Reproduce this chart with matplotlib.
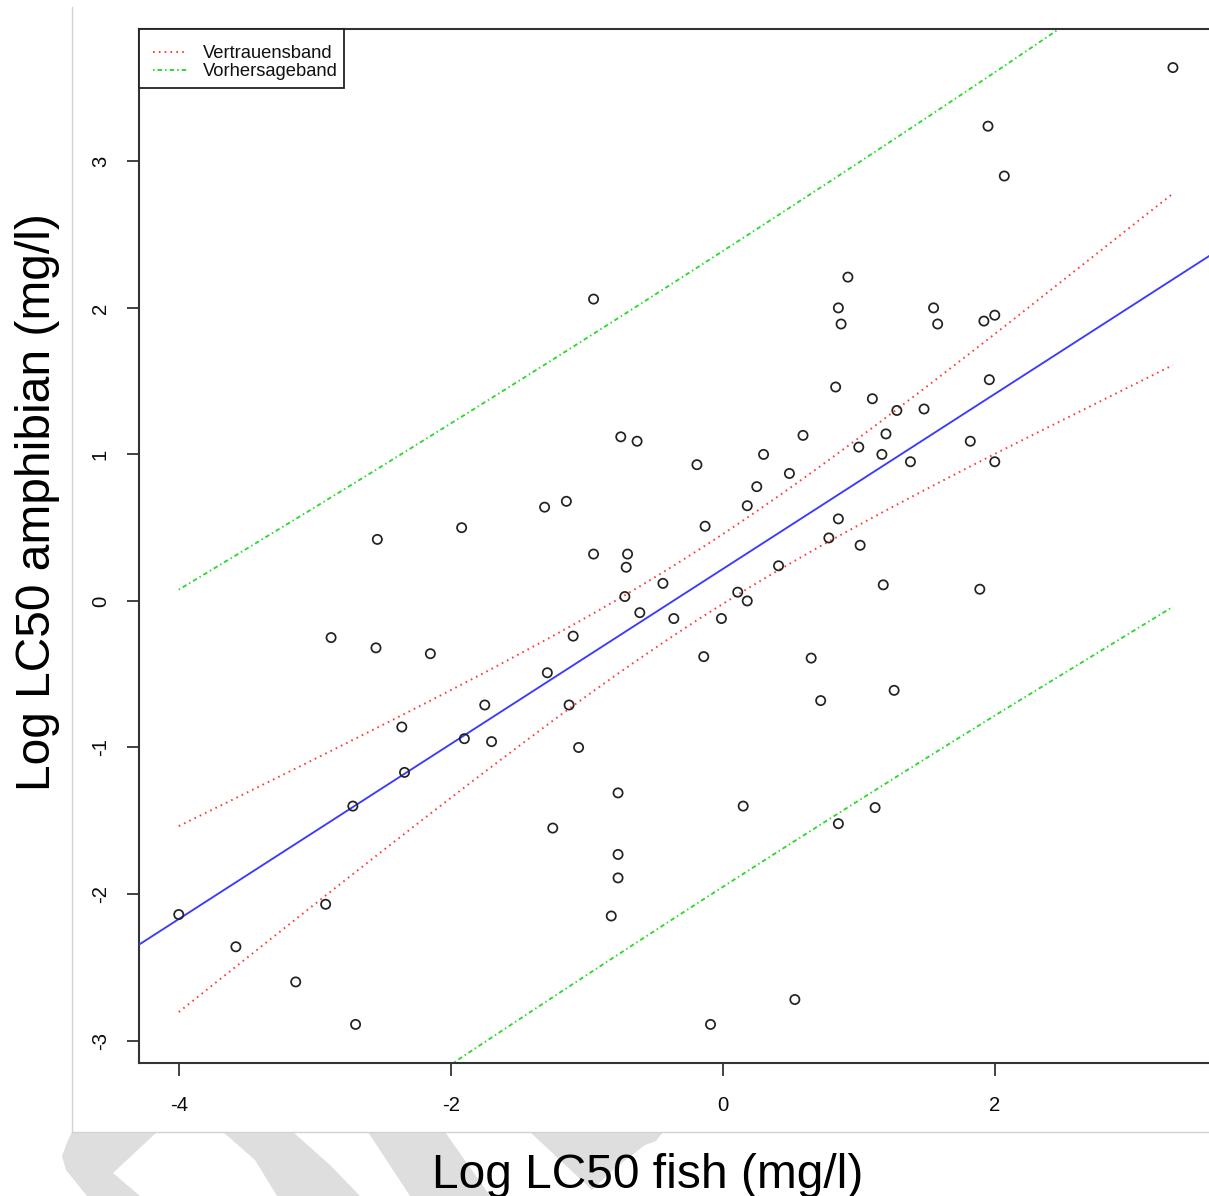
import numpy as np
import matplotlib
matplotlib.use("Agg")
import matplotlib.pyplot as plt
from matplotlib.patches import Polygon, Rectangle
from matplotlib.lines import Line2D

plt.rcParams['font.family'] = ['Liberation Sans', 'DejaVu Sans']
plt.rcParams['lines.scale_dashes'] = False

# Log LC50 values (mg/l) per substance
fish = np.array([
    3.31, 1.95, 2.07, 0.92, -0.95, 0.85, 1.55, 0.87, 1.92, 2.00,
    1.58, 1.96, 0.83, 1.10, 1.28, 1.48, -0.75, -0.63, 0.59, 1.20,
    1.82, 1.00, 0.30, 1.17, 1.38, 2.00, -0.19, 0.49, 0.25, -1.15,
    -1.31, 0.18, -1.92, -0.13, 0.85, -2.54, 0.78, 1.01, -0.95, -0.70,
    -0.71, 0.41, -0.44, 1.89, 1.18, 0.11, -0.72, 0.18, -0.61, -0.01,
    -0.36, -2.88, -1.10, -2.55, -2.15, -0.14, 0.65, -1.29, -1.75, -1.13,
    0.72, 1.26, -2.36, -1.90, -1.70, -1.06, -2.34, -0.77, -2.72, 0.15,
    1.12, 0.85, -1.25, -0.77, -0.77, -2.92, -4.00, -0.82, -3.58, -3.14,
    0.53, -2.70, -0.09,
])
amphibian = np.array([
    3.64, 3.24, 2.90, 2.21, 2.06, 2.00, 2.00, 1.89, 1.91, 1.95,
    1.89, 1.51, 1.46, 1.38, 1.30, 1.31, 1.12, 1.09, 1.13, 1.14,
    1.09, 1.05, 1.00, 1.00, 0.95, 0.95, 0.93, 0.87, 0.78, 0.68,
    0.64, 0.65, 0.50, 0.51, 0.56, 0.42, 0.43, 0.38, 0.32, 0.32,
    0.23, 0.24, 0.12, 0.08, 0.11, 0.06, 0.03, 0.00, -0.08, -0.12,
    -0.12, -0.25, -0.24, -0.32, -0.36, -0.38, -0.39, -0.49, -0.71, -0.71,
    -0.68, -0.61, -0.86, -0.94, -0.96, -1.00, -1.17, -1.31, -1.40, -1.40,
    -1.41, -1.52, -1.55, -1.73, -1.89, -2.07, -2.14, -2.15, -2.36, -2.60,
    -2.72, -2.89, -2.89,
])

x_ticks = [-4, -2, 0, 2]
y_ticks = [-3, -2, -1, 0, 1, 2, 3]
band_labels = ["Vertrauensband", "Vorhersageband"]
x_label = "Log LC50 fish (mg/l)"
y_label = "Log LC50 amphibian (mg/l)"

T_975 = 1.9897  # two-sided 95 % t quantile, n - 2 = 81 df

# ---- linear regression with confidence and prediction bands ----
n = len(fish)
slope, intercept = np.polyfit(fish, amphibian, 1)
resid = amphibian - (intercept + slope * fish)
s = np.sqrt(np.sum(resid ** 2) / (n - 2))
xbar = fish.mean()
sxx = np.sum((fish - xbar) ** 2)
xs = np.sort(fish)
fit = intercept + slope * xs
se_mean = s * np.sqrt(1 / n + (xs - xbar) ** 2 / sxx)
se_pred = s * np.sqrt(1 + 1 / n + (xs - xbar) ** 2 / sxx)

# ---- figure ----
W, H = 1209, 1196
fig = plt.figure(figsize=(W / 100, H / 100), dpi=100)


def fx(px):
    return px / W


def fy(py):
    return 1 - py / H


# light grey decorative strokes below the framed area
wm_color = '#dedede'
strokes = [
    [(72, 1132), (157, 1132), (113, 1173), (140, 1196), (87, 1196), (66, 1170), (62, 1156), (68, 1140)],
    [(223, 1132), (293, 1132), (330, 1165), (360, 1196), (277, 1196), (255, 1160)],
    [(368, 1132), (445, 1132), (490, 1196), (410, 1196)],
    [(530, 1132), (663, 1132), (656, 1141), (645, 1145), (615, 1168), (592, 1190), (560, 1160)],
]
for pts in strokes:
    fig.patches.append(Polygon([(fx(a), fy(b)) for a, b in pts], closed=True,
                               transform=fig.transFigure, facecolor=wm_color,
                               edgecolor='none', zorder=0))

# thin grey frame around the chart area
frame_c = '#d2d2d2'
fig.add_artist(Line2D([fx(71.7), fx(71.7)], [fy(7), fy(1132)], color=frame_c, lw=1.0,
                      transform=fig.transFigure))
fig.add_artist(Line2D([fx(71.7), fx(W)], [fy(1132), fy(1132)], color=frame_c, lw=1.0,
                      transform=fig.transFigure))

# plot region
ax_l, ax_r, ax_t, ax_b = 139, 1212.7, 29.3, 1062.7
ax = fig.add_axes([fx(ax_l), fy(ax_b), fx(ax_r - ax_l), (ax_b - ax_t) / H])

x_rng = fish.max() - fish.min()
y_rng = amphibian.max() - amphibian.min()
ax.set_xlim(fish.min() - 0.04 * x_rng, fish.max() + 0.04 * x_rng)
ax.set_ylim(amphibian.min() - 0.04 * y_rng, amphibian.max() + 0.04 * y_rng)

ax.scatter(fish, amphibian, s=44, facecolors='none', edgecolors='#222222',
           linewidths=1.25, zorder=4)

ax.axline((0, intercept), slope=slope, color='#3b3bff', lw=1.35, zorder=3)

red = '#ff3c3c'
green = '#2fd82f'
dotted = (0, (1.2, 3.0))
dotdash = (0, (1.1, 2.2, 3.2, 2.2))
ax.plot(xs, fit + T_975 * se_mean, color=red, lw=1.4, ls=dotted)
ax.plot(xs, fit - T_975 * se_mean, color=red, lw=1.4, ls=dotted)
ax.plot(xs, fit + T_975 * se_pred, color=green, lw=1.35, ls=dotdash)
ax.plot(xs, fit - T_975 * se_pred, color=green, lw=1.35, ls=dotdash)

for side in ['left', 'bottom', 'top', 'right']:
    ax.spines[side].set_color('#333333')
    ax.spines[side].set_linewidth(1.5)

ax.set_xticks(x_ticks)
ax.set_xticklabels([str(v) for v in x_ticks])
ax.set_yticks(y_ticks)
ax.set_yticklabels([str(v) for v in y_ticks], rotation=90, va='center')
ax.tick_params(axis='both', direction='out', length=9, width=1.3, color='#333333',
               labelsize=14.6, labelcolor='#0a0a0a')
ax.tick_params(axis='x', pad=15.0)
ax.tick_params(axis='y', pad=12.0)

# legend box in the upper left corner of the plot region
leg_box = (139, 29.3, 344, 88)
fig.patches.append(Rectangle((fx(leg_box[0]), fy(leg_box[3])),
                             fx(leg_box[2] - leg_box[0]), (leg_box[3] - leg_box[1]) / H,
                             transform=fig.transFigure, facecolor='white',
                             edgecolor='#222222', lw=1.3, zorder=10))
legend_rows = [(band_labels[0], red, dotted, 51.5, 58.3),
               (band_labels[1], green, dotdash, 69.5, 76.5)]
for label, col, style, y_line, y_base in legend_rows:
    fig.add_artist(Line2D([fx(153), fx(187)], [fy(y_line), fy(y_line)], color=col,
                          lw=1.4, ls=style, transform=fig.transFigure, zorder=11))
    fig.text(fx(203), fy(y_base), label, ha='left', va='baseline', fontsize=13.2,
             color='#111111', zorder=11)

fig.text(fx(648), fy(1188.3), x_label, ha='center', va='baseline', fontsize=34.5)
fig.text(fx(38), fy(502), y_label, ha='center', va='center', rotation=90, fontsize=34.5)

fig.savefig('out.png', dpi=100)
